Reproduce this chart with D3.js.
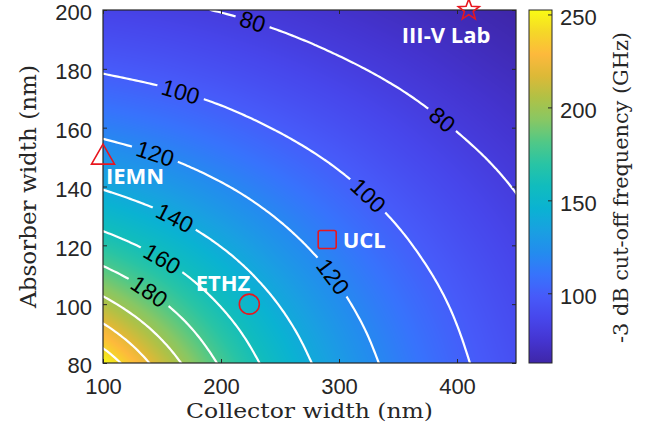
<!DOCTYPE html>
<html><head><meta charset="utf-8">
<script src="https://cdn.jsdelivr.net/npm/d3@7"></script>
<style>html,body{margin:0;padding:0;background:#fff;} svg{display:block}</style>
</head><body><svg id="chart" width="650" height="440"></svg>
<script>
// ---------------- data ----------------
const collectorNm = [100, 150, 200, 250, 300, 350, 400, 450];
const absorberNm = [80, 90, 100, 110, 120, 130, 140, 150, 160, 170, 180, 190, 200];
// -3 dB cut-off frequency (GHz), one row per absorber width, columns = collector width
const f_a080 = [252.4, 211.7, 177.9, 151.6, 131.2, 115.2, 102.5, 91.7];
const f_a090 = [228.0, 196.7, 168.7, 145.8, 127.4, 112.6, 100.6, 90.2];
const f_a100 = [205.6, 181.7, 159.0, 139.4, 123.0, 109.6, 98.4, 88.5];
const f_a110 = [185.5, 167.4, 149.2, 132.6, 118.3, 106.2, 95.8, 86.5];
const f_a120 = [167.8, 154.0, 139.5, 125.6, 113.3, 102.5, 92.8, 84.4];
const f_a130 = [152.2, 141.7, 130.1, 118.7, 108.1, 98.5, 89.7, 82.0];
const f_a140 = [138.6, 130.5, 121.3, 111.9, 102.9, 94.3, 86.4, 79.4];
const f_a150 = [126.6, 120.4, 113.0, 105.3, 97.6, 89.9, 83.0, 76.7];
const f_a160 = [116.2, 111.3, 105.4, 98.9, 92.2, 85.7, 79.5, 73.8];
const f_a170 = [106.9, 103.1, 98.3, 92.7, 87.1, 81.5, 76.0, 71.1];
const f_a180 = [98.7, 95.5, 91.4, 86.9, 82.1, 77.3, 72.5, 68.1];
const f_a190 = [91.1, 88.6, 85.3, 81.5, 77.4, 73.3, 69.3, 65.2];
const f_a200 = [84.3, 82.2, 79.5, 76.4, 73.0, 69.5, 65.9, 62.5];
const cutoffGHz = [f_a080, f_a090, f_a100, f_a110, f_a120, f_a130, f_a140,
                   f_a150, f_a160, f_a170, f_a180, f_a190, f_a200];

const contourLevels = [80, 100, 120, 140, 160, 180, 200, 220, 240];
const xTickValues = [100, 200, 300, 400];
const yTickValues = [80, 100, 120, 140, 160, 180, 200];
const cbarTickValues = [100, 150, 200, 250];

// contour labels: level and approximate anchor (collector, absorber)
const labelLevels = [80, 80, 100, 100, 120, 120, 140, 160, 180];
const labelCollector = [226, 386, 165, 320, 144, 290, 159, 148, 137];
const labelAbsorber = [195, 162, 171, 135, 151, 108, 128, 114, 103];

// reported devices
const deviceNames = ["IEMN", "III-V Lab", "UCL", "ETHZ"];
const deviceCollector = [100, 410, 290, 224];
const deviceAbsorber = [150, 200, 122, 100];
const deviceShapes = ["triangle", "star", "square", "circle"];

// ---------------- layout / style ----------------
const plot = {left: 103, top: 10, right: 516, bottom: 363};
const cbar = {left: 529, right: 552};
const deviceTextOffset = [[3, 27], [-67, 33], [15.5, 8.5], [-53.6, -13.5]];
const parulaStops = [
  [0.000, [62, 38, 168]], [0.0625, [68, 52, 208]], [0.125, [71, 70, 235]],
  [0.1875, [71, 90, 249]], [0.25, [55, 115, 252]], [0.3125, [35, 140, 238]],
  [0.375, [25, 160, 225]], [0.4375, [10, 178, 210]], [0.5, [16, 188, 190]],
  [0.5625, [40, 196, 165]], [0.625, [80, 200, 135]], [0.6875, [135, 199, 100]],
  [0.75, [175, 193, 70]], [0.8125, [220, 185, 55]], [0.875, [253, 185, 60]],
  [0.9375, [245, 215, 40]], [1.0, [249, 251, 20]]
];
const frameColor = "#262626";
const markColor = "#e8161e";
const tickFont = "'Liberation Sans', Arial, sans-serif";
const serifFont = "'DejaVu Serif', serif";

const svg = d3.select("#chart");
const x = d3.scaleLinear().domain([100, 450]).range([plot.left, plot.right]);
const y = d3.scaleLinear().domain([80, 200]).range([plot.bottom, plot.top]);
const [zMin, zMax] = d3.extent(cutoffGHz.flat());

const colorT = d3.scaleLinear().domain(parulaStops.map(d => d[0]))
  .range(parulaStops.map(d => d3.rgb(...d[1]))).interpolate(d3.interpolateRgb).clamp(true);

// ---------------- smooth (bicubic) field through the grid ----------------
const nc = collectorNm.length, na = absorberNm.length;
const cStep = collectorNm[1] - collectorNm[0], aStep = absorberNm[1] - absorberNm[0];
function G(i, j) {
  if (i < 0) return 2 * G(0, j) - G(1, j);
  if (i > nc - 1) return 2 * G(nc - 1, j) - G(nc - 2, j);
  if (j < 0) return 2 * G(i, 0) - G(i, 1);
  if (j > na - 1) return 2 * G(i, na - 1) - G(i, na - 2);
  return cutoffGHz[j][i];
}
function cr(p0, p1, p2, p3, t) {
  return 0.5 * (2 * p1 + (-p0 + p2) * t + (2 * p0 - 5 * p1 + 4 * p2 - p3) * t * t + (-p0 + 3 * p1 - 3 * p2 + p3) * t * t * t);
}
function field(c, a) {
  const u = (c - collectorNm[0]) / cStep, v = (a - absorberNm[0]) / aStep;
  const i = Math.min(Math.max(Math.floor(u), 0), nc - 2), j = Math.min(Math.max(Math.floor(v), 0), na - 2);
  const tu = u - i, tv = v - j;
  const r = [];
  for (let k = -1; k <= 2; k++) r.push(cr(G(i - 1, j + k), G(i, j + k), G(i + 1, j + k), G(i + 2, j + k), tu));
  return cr(r[0], r[1], r[2], r[3], tv);
}

// ---------------- heat map ----------------
const pw = plot.right - plot.left, ph = plot.bottom - plot.top;
const lut = d3.range(1024).map(k => d3.rgb(colorT(k / 1023)));
const cv = document.createElement("canvas");
cv.width = pw; cv.height = ph;
const ctx = cv.getContext("2d");
const img = ctx.createImageData(pw, ph);
for (let py = 0; py < ph; py++) {
  const a = y.invert(plot.top + py + 0.5);
  for (let px = 0; px < pw; px++) {
    const c = x.invert(plot.left + px + 0.5);
    const t = Math.max(0, Math.min(1, (field(c, a) - zMin) / (zMax - zMin)));
    const col = lut[Math.round(t * 1023)];
    const o = (py * pw + px) * 4;
    img.data[o] = col.r; img.data[o + 1] = col.g; img.data[o + 2] = col.b; img.data[o + 3] = 255;
  }
}
ctx.putImageData(img, 0, 0);
svg.append("image").attr("x", plot.left).attr("y", plot.top).attr("width", pw).attr("height", ph)
  .attr("preserveAspectRatio", "none").attr("href", cv.toDataURL());

// ---------------- contours ----------------
const defs = svg.append("defs");
defs.append("clipPath").attr("id", "plotclip").append("rect")
  .attr("x", plot.left).attr("y", plot.top).attr("width", pw).attr("height", ph);

const sc = 2.5, sa = 1;
const nx = Math.round((450 - 100) / sc) + 1, ny = Math.round((200 - 80) / sa) + 1;
const samples = new Array(nx * ny);
for (let j = 0; j < ny; j++) for (let i = 0; i < nx; i++) samples[j * nx + i] = field(100 + i * sc, 80 + j * sa);
const contours = d3.contours().size([nx, ny]).thresholds(contourLevels)(samples);
const proj = d3.geoTransform({point: function (u, v) {
  this.stream.point(x(100 + (u - 0.5) * sc), y(80 + (v - 0.5) * sa));
}});
const cpath = d3.geoPath(proj);

// label placement (snap to contour, orient along it)
function fpx(px, py) { return field(x.invert(px), y.invert(py)); }
function grad(px, py) {
  const h = 0.5;
  return [(fpx(px + h, py) - fpx(px - h, py)) / (2 * h), (fpx(px, py + h) - fpx(px, py - h)) / (2 * h)];
}
const labels = labelLevels.map((lv, k) => {
  let px = x(labelCollector[k]), py = y(labelAbsorber[k]);
  for (let it = 0; it < 8; it++) {
    const g = grad(px, py), v = fpx(px, py) - lv, n2 = g[0] * g[0] + g[1] * g[1];
    px -= v * g[0] / n2; py -= v * g[1] / n2;
  }
  const g = grad(px, py);
  let ang = Math.atan2(g[0], -g[1]) * 180 / Math.PI;
  if (ang > 90) ang -= 180;
  if (ang < -90) ang += 180;
  return {lv, px, py, ang};
});

const mask = defs.append("mask").attr("id", "lblmask").attr("maskUnits", "userSpaceOnUse")
  .attr("x", 0).attr("y", 0).attr("width", 650).attr("height", 440);
mask.append("rect").attr("x", 0).attr("y", 0).attr("width", 650).attr("height", 440).attr("fill", "#fff");

const cg = svg.append("g").attr("clip-path", "url(#plotclip)");
cg.append("g").attr("mask", "url(#lblmask)")
  .selectAll("path").data(contours).join("path")
  .attr("d", cpath).attr("fill", "none").attr("stroke", "#fff").attr("stroke-width", 2.2)
  .attr("stroke-linejoin", "round");

const lg = svg.append("g").attr("clip-path", "url(#plotclip)");
labels.forEach(l => {
  const t = lg.append("text").attr("transform", `translate(${l.px},${l.py}) rotate(${l.ang})`)
    .attr("text-anchor", "middle").attr("dy", "0.35em")
    .style("font-family", tickFont).style("font-size", "23px").attr("fill", "#000").text(l.lv);
  const w = t.node().getComputedTextLength();
  mask.append("rect").attr("x", -w / 2 - 5).attr("y", -10).attr("width", w + 10).attr("height", 20)
    .attr("transform", `translate(${l.px},${l.py}) rotate(${l.ang})`).attr("fill", "#000");
});

// ---------------- axes ----------------
const axFont = sel => sel.selectAll("text").style("font-family", tickFont).style("font-size", "22px").attr("fill", "#262626");
const axB = svg.append("g").attr("transform", `translate(0,${plot.bottom})`)
  .call(d3.axisBottom(x).tickValues(xTickValues).tickSize(-4).tickPadding(15));
const axT = svg.append("g").attr("transform", `translate(0,${plot.top})`)
  .call(d3.axisTop(x).tickValues(xTickValues).tickSize(-4).tickFormat(""));
const axL = svg.append("g").attr("transform", `translate(${plot.left},0)`)
  .call(d3.axisLeft(y).tickValues(yTickValues).tickSize(-4).tickPadding(11));
const axR = svg.append("g").attr("transform", `translate(${plot.right},0)`)
  .call(d3.axisRight(y).tickValues(yTickValues).tickSize(-4).tickFormat(""));
[axB, axT, axL, axR].forEach(a => {
  a.select(".domain").remove();
  a.selectAll("line").attr("stroke", frameColor);
  axFont(a);
});
axL.selectAll("text").attr("dy", "0.45em");
svg.append("rect").attr("x", plot.left).attr("y", plot.top).attr("width", pw).attr("height", ph)
  .attr("fill", "none").attr("stroke", frameColor).attr("stroke-width", 1.2);

svg.append("text").attr("x", (plot.left + plot.right) / 2).attr("y", 418)
  .attr("text-anchor", "middle").style("font-family", serifFont).style("font-size", "20px")
  .attr("fill", "#262626").attr("textLength", 247).attr("lengthAdjust", "spacingAndGlyphs")
  .text("Collector width (nm)");
svg.append("text").attr("transform", "translate(35.5,186.5) rotate(-90)")
  .attr("text-anchor", "middle").style("font-family", serifFont).style("font-size", "22px")
  .attr("fill", "#262626").attr("textLength", 243).attr("lengthAdjust", "spacingAndGlyphs")
  .text("Absorber width (nm)");

// ---------------- device markers ----------------
function starPath(R, r) {
  const p = [];
  for (let k = 0; k < 10; k++) {
    const ang = -Math.PI / 2 + k * Math.PI / 5, rr = k % 2 ? r : R;
    p.push([rr * Math.cos(ang), rr * Math.sin(ang)]);
  }
  return "M" + p.map(q => q.join(",")).join("L") + "Z";
}
const dg = svg.append("g");
deviceNames.forEach((name, k) => {
  const cx = x(deviceCollector[k]), cy = y(deviceAbsorber[k]);
  const g = dg.append("g").attr("transform", `translate(${cx},${cy})`);
  const shape = deviceShapes[k];
  let m;
  if (shape === "triangle") m = g.append("path").attr("d", "M0,-13L11.5,7L-11.5,7Z");
  else if (shape === "star") m = g.append("path").attr("d", starPath(11, 4.6));
  else if (shape === "square") m = g.append("rect").attr("x", -9).attr("y", -9).attr("width", 18).attr("height", 18).attr("rx", 2);
  else m = g.append("circle").attr("r", 10);
  m.attr("fill", "none").attr("stroke", markColor).attr("stroke-width", 1.6);
  svg.append("text").attr("x", cx + deviceTextOffset[k][0]).attr("y", cy + deviceTextOffset[k][1])
    .style("font-family", "'Open Sans', sans-serif").style("font-weight", "700").style("font-size", "22px")
    .attr("fill", "#fff").text(name);
});

// ---------------- colour bar ----------------
const cyS = d3.scaleLinear().domain([zMin, zMax]).range([plot.bottom, plot.top]);
const grad0 = defs.append("linearGradient").attr("id", "cbgrad").attr("x1", 0).attr("y1", 1).attr("x2", 0).attr("y2", 0);
d3.range(65).forEach(k => grad0.append("stop").attr("offset", k / 64).attr("stop-color", colorT(k / 64)));
svg.append("rect").attr("x", cbar.left).attr("y", plot.top).attr("width", cbar.right - cbar.left).attr("height", ph)
  .attr("fill", "url(#cbgrad)");
const axC = svg.append("g").attr("transform", `translate(${cbar.right},0)`)
  .call(d3.axisRight(cyS).tickValues(cbarTickValues).tickSize(-4).tickPadding(8));
axC.select(".domain").remove();
axC.selectAll("line").attr("stroke", frameColor);
axFont(axC);
axC.selectAll("text").attr("dy", "0.47em");
svg.append("rect").attr("x", cbar.left).attr("y", plot.top).attr("width", cbar.right - cbar.left).attr("height", ph)
  .attr("fill", "none").attr("stroke", frameColor).attr("stroke-width", 1);
svg.append("text").attr("transform", "translate(628,187.5) rotate(-90)")
  .attr("text-anchor", "middle").style("font-family", serifFont).style("font-size", "21px")
  .attr("fill", "#262626").attr("textLength", 311).attr("lengthAdjust", "spacingAndGlyphs")
  .text("-3 dB cut-off frequency (GHz)");
</script></body></html>
